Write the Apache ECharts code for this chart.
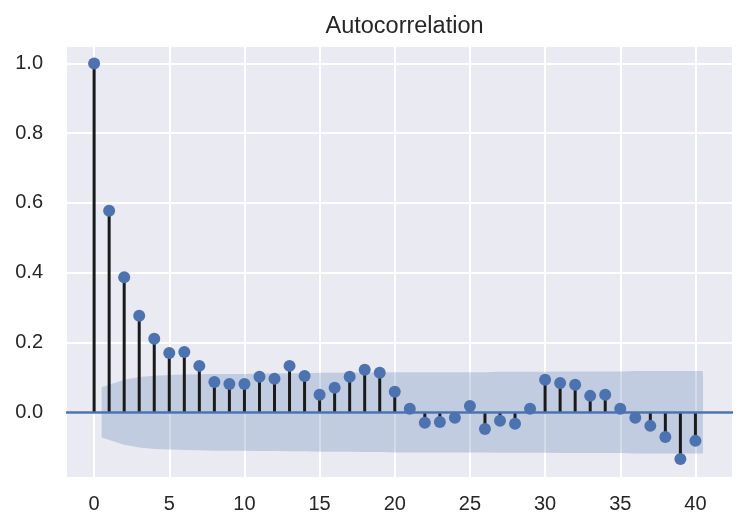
<!DOCTYPE html>
<html>
<head>
<meta charset="utf-8">
<script src="https://cdn.jsdelivr.net/npm/echarts@6/dist/echarts.min.js"></script>
<style>
  html, body { margin: 0; padding: 0; background: #fff; }
  #chart { width: 747px; height: 532px; }
</style>
</head>
<body>
<div id="chart"></div>
<script>
// lags 0..40 and autocorrelation
const lags = [0, 1, 2, 3, 4, 5, 6, 7, 8, 9, 10, 11, 12, 13, 14, 15, 16, 17, 18, 19, 20,
  21, 22, 23, 24, 25, 26, 27, 28, 29, 30, 31, 32, 33, 34, 35, 36, 37, 38, 39, 40]
const acfValues = [1.0, 0.578, 0.387, 0.277, 0.211, 0.170, 0.173, 0.133, 0.087, 0.081, 0.081,
  0.102, 0.096, 0.133, 0.104, 0.050, 0.070, 0.102, 0.122, 0.113, 0.059,
  0.010, -0.030, -0.028, -0.016, 0.018, -0.048, -0.024, -0.033, 0.010, 0.093,
  0.084, 0.079, 0.047, 0.050, 0.010, -0.016, -0.039, -0.071, -0.134, -0.082]
// confidence band (lag 1 starts at 0.5, lag 40 ends at 40.5)
const bandX = [0.5, 2, 3, 4, 5, 6, 7, 8, 9, 10, 11, 12, 13, 14, 15, 16, 17, 18, 19, 20,
  21, 22, 23, 24, 25, 26, 27, 28, 29, 30, 31, 32, 33, 34, 35, 36, 37, 38, 39, 40.5]
const bandHigh = [0.072, 0.093, 0.101, 0.105, 0.107, 0.108, 0.109, 0.110, 0.110, 0.110,
  0.111, 0.111, 0.112, 0.112, 0.113, 0.113, 0.113, 0.114, 0.114, 0.115,
  0.115, 0.115, 0.115, 0.115, 0.115, 0.115, 0.116, 0.116, 0.116, 0.116,
  0.117, 0.117, 0.117, 0.117, 0.117, 0.118, 0.118, 0.118, 0.118, 0.118]
const bandLow = [-0.072, -0.093, -0.101, -0.105, -0.107, -0.108, -0.109, -0.110, -0.110, -0.110,
  -0.111, -0.111, -0.112, -0.112, -0.113, -0.113, -0.113, -0.114, -0.114, -0.115,
  -0.115, -0.115, -0.115, -0.115, -0.115, -0.115, -0.116, -0.116, -0.116, -0.116,
  -0.117, -0.117, -0.117, -0.117, -0.117, -0.118, -0.118, -0.118, -0.118, -0.118]

const blue = '#4C72B0'
const textColor = '#262626'
const font = '"Liberation Sans", Arial, sans-serif'

var chart = echarts.init(document.getElementById('chart'))
chart.setOption({
  animation: false,
  backgroundColor: '#fff',
  title: {
    text: 'Autocorrelation',
    left: 399.5,
    top: 10,
    textAlign: 'center',
    textStyle: { color: textColor, fontSize: 23.5, fontWeight: 'normal', fontFamily: font }
  },
  grid: {
    left: 66, right: 14, top: 46, bottom: 54.5,
    show: true, backgroundColor: '#EAEAF2', borderWidth: 0
  },
  xAxis: {
    type: 'value',
    min: -1.87, max: 42.5,
    splitNumber: 9,
    axisLine: { show: false },
    axisTick: { show: false },
    axisLabel: {
      color: textColor, fontSize: 20, fontFamily: font, margin: 17,
      showMinLabel: false, showMaxLabel: false
    },
    splitLine: { lineStyle: { color: '#fff', width: 2 } }
  },
  yAxis: {
    type: 'value',
    min: -0.187, max: 1.05,
    splitNumber: 6,
    axisLine: { show: false },
    axisTick: { show: false },
    axisLabel: {
      color: textColor, fontSize: 20, fontFamily: font, margin: 23,
      showMinLabel: false, showMaxLabel: false,
      formatter: function (v) { return v.toFixed(1) }
    },
    splitLine: { lineStyle: { color: '#fff', width: 2 } }
  },
  series: [
    {
      // confidence band polygon
      type: 'custom',
      z: 1,
      silent: true,
      data: [0],
      renderItem: function (params, api) {
        var pts = []
        for (var i = 0; i < bandX.length; i++) pts.push(api.coord([bandX[i], bandHigh[i]]))
        for (var j = bandX.length - 1; j >= 0; j--) pts.push(api.coord([bandX[j], bandLow[j]]))
        return {
          type: 'polygon',
          shape: { points: pts },
          style: { fill: 'rgba(76,114,176,0.25)' }
        }
      }
    },
    {
      // stems
      type: 'bar',
      z: 2,
      barWidth: 3,
      itemStyle: { color: '#1a1a1a' },
      data: lags.map(function (l, i) { return [l, acfValues[i]] }),
      markLine: {
        silent: true,
        symbol: 'none',
        label: { show: false },
        lineStyle: { color: blue, width: 2.5, type: 'solid' },
        data: [{ yAxis: 0 }]
      }
    },
    {
      type: 'scatter',
      z: 4,
      symbolSize: 12,
      itemStyle: { color: blue, opacity: 1 },
      data: lags.map(function (l, i) { return [l, acfValues[i]] })
    }
  ]
})
</script>
</body>
</html>
